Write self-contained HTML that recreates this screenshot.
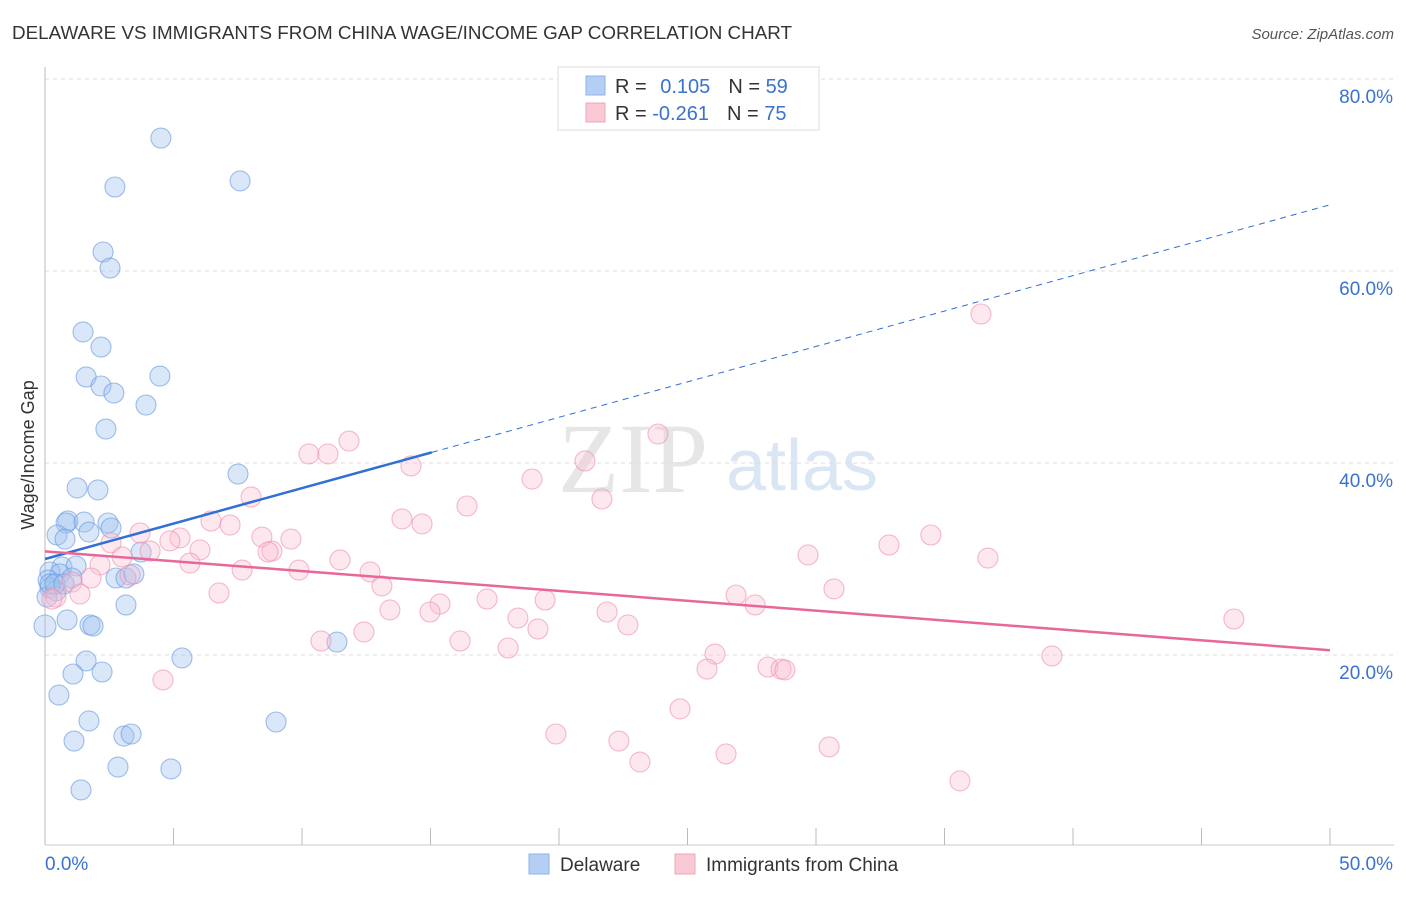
<!DOCTYPE html>
<html><head><meta charset="utf-8"><style>
body{margin:0;background:#fff;font-family:"Liberation Sans",sans-serif}
</style></head><body>
<svg width="1406" height="892" viewBox="0 0 1406 892" xmlns="http://www.w3.org/2000/svg">
<text x="12" y="39" font-size="18" fill="#333" textLength="780" lengthAdjust="spacingAndGlyphs">DELAWARE VS IMMIGRANTS FROM CHINA WAGE/INCOME GAP CORRELATION CHART</text>
<text x="1394" y="39" font-size="15" fill="#555" font-style="italic" text-anchor="end">Source: ZipAtlas.com</text>
<text x="633" y="492" font-size="100" fill="#e6e6e6" font-family="Liberation Serif" text-anchor="middle">ZIP</text>
<text x="802" y="490" font-size="72" fill="#dbe6f5" text-anchor="middle">atlas</text>
<g id="grid"></g><g id="axes"></g><g id="pts"></g><g id="lines"></g>
<text transform="translate(34,455) rotate(-90)" font-size="18" fill="#333" text-anchor="middle">Wage/Income Gap</text>
<g>
<rect x="558" y="67" width="261" height="63" fill="#fff" stroke="#ddd"/>
<rect x="586" y="76" width="19" height="19" fill="#b4cff3" stroke="#8fb3e8"/>
<rect x="586" y="103" width="19" height="19" fill="#f9c9d6" stroke="#f1a5bb"/>
<text x="615" y="93" font-size="20" fill="#333">R = <tspan fill="#3a72d0" dx="8">0.105</tspan><tspan fill="#333" dx="18">N = </tspan><tspan fill="#3a72d0">59</tspan></text>
<text x="615" y="120" font-size="20" fill="#333">R = <tspan fill="#3a72d0">-0.261</tspan><tspan fill="#333" dx="18">N = </tspan><tspan fill="#3a72d0">75</tspan></text>
</g>
<g>
<rect x="529" y="854" width="20" height="20" fill="#b4cff3" stroke="#8fb3e8"/>
<text x="560" y="871" font-size="19" fill="#333">Delaware</text>
<rect x="675" y="854" width="20" height="20" fill="#f9c9d6" stroke="#f1a5bb"/>
<text x="706" y="871" font-size="19" fill="#333">Immigrants from China</text>
</g>
<script>
const yTicks=[20,40,60,80];
const xTickLabels=["0.0%","50.0%"];
const blueLine=[30.0,66.9];
const pinkLine=[30.8,20.5];
const blueSolidEnd=15.05;
const bluePx=[[161,138],[115,187],[240,181],[103,252],[110,268],[83,332],[101,347],[86,377],[160,376],[101,386],[114,393],[146,405],[106,429],[238,474],[77,488],[98,490],[68,521],[66,523],[84,522],[108,523],[57,535],[65,539],[89,532],[111,528],[141,552],[62,567],[76,566],[50,572],[60,574],[72,578],[48,580],[116,578],[126,578],[134,574],[50,588],[56,591],[47,597],[126,605],[67,620],[90,625],[93,626],[45,626],[337,642],[182,658],[86,661],[73,674],[102,672],[59,695],[89,721],[276,722],[74,741],[124,736],[131,734],[118,767],[171,769],[81,790],[50,584],[55,584],[64,584]];
const pinkPx=[[981,314],[658,434],[349,441],[309,454],[328,454],[411,466],[585,461],[532,479],[251,497],[602,499],[467,506],[402,519],[422,524],[211,521],[230,525],[140,533],[262,537],[291,539],[180,538],[170,541],[889,545],[931,535],[111,543],[122,557],[200,550],[150,551],[272,551],[268,552],[808,555],[988,558],[340,560],[190,563],[100,565],[242,570],[299,570],[370,572],[130,575],[91,578],[72,582],[382,586],[834,589],[219,593],[80,594],[56,597],[52,599],[736,595],[487,599],[545,600],[755,605],[440,604],[390,610],[430,612],[607,612],[518,618],[628,625],[538,629],[364,632],[321,641],[460,641],[508,648],[715,654],[1052,656],[1234,619],[707,669],[768,667],[781,669],[785,670],[163,680],[680,709],[556,734],[619,741],[829,747],[726,754],[640,762],[960,781]];
const blueX=bluePx.map(p=>+((p[0]-45)/25.7).toFixed(2)), blueY=bluePx.map(p=>+((847-p[1])/9.6).toFixed(2));
const pinkX=pinkPx.map(p=>+((p[0]-45)/25.7).toFixed(2)), pinkY=pinkPx.map(p=>+((847-p[1])/9.6).toFixed(2));
const X=v=>45+v*25.7, Y=v=>847-v*9.6;
const NS="http://www.w3.org/2000/svg";
function mk(t,a,parent){const e=document.createElementNS(NS,t);for(const k in a)e.setAttribute(k,a[k]);document.getElementById(parent).appendChild(e);return e;}
yTicks.forEach(t=>{
 const g=mk("line",{x1:45,x2:1394,y1:Y(t),y2:Y(t),stroke:"#ddd","stroke-dasharray":"4,4"},"grid");
 
 
 const l=mk("text",{x:1393,y:Y(t)+24,"font-size":19,fill:"#3a72d0","text-anchor":"end"},"grid");
 l.textContent=t.toFixed(1)+"%";
 
 
});
const ax=mk("line",{x1:45,x2:1394,y1:845,y2:845,stroke:"#ccc"},"axes");


const ay=mk("line",{x1:45,x2:45,y1:67,y2:845,stroke:"#bbb"},"axes");


for(let i=0;i<=10;i++){
 const t=mk("line",{x1:X(i*5),x2:X(i*5),y1:828,y2:845,stroke:"#bbb"},"axes");
 
 
}
[[0,45,"start"],[1,1393,"end"]].forEach(a=>{
 const l=mk("text",{x:a[1],y:870,"font-size":19,fill:"#3a72d0","text-anchor":a[2]},"axes");
 l.textContent=xTickLabels[a[0]];
 
 
});
blueX.forEach((x,i)=>{
 const c=mk("circle",{cx:X(x),cy:Y(blueY[i]),r:x===0?11:10,fill:"rgba(160,196,240,0.4)",stroke:"rgba(100,150,225,0.6)","stroke-width":1.1},"pts");
 
 
});
pinkX.forEach((x,i)=>{
 const c=mk("circle",{cx:X(x),cy:Y(pinkY[i]),r:10,fill:"rgba(248,190,208,0.35)",stroke:"rgba(238,140,172,0.6)","stroke-width":1.1},"pts");
 
 
});
const by=x=>blueLine[0]+(blueLine[1]-blueLine[0])*x/50;
const b1=mk("line",{x1:X(0),y1:Y(by(0)),x2:X(blueSolidEnd),y2:Y(by(blueSolidEnd)),stroke:"#2f6fd6","stroke-width":2.5},"lines");


const b2=mk("line",{x1:X(blueSolidEnd),y1:Y(by(blueSolidEnd)),x2:X(50),y2:Y(by(50)),stroke:"#2f6fd6","stroke-width":1,"stroke-dasharray":"6,5"},"lines");


const p1=mk("line",{x1:X(0),y1:Y(pinkLine[0]),x2:X(50),y2:Y(pinkLine[1]),stroke:"#e8679a","stroke-width":2.5},"lines");


</script>
</svg>
</body></html>
